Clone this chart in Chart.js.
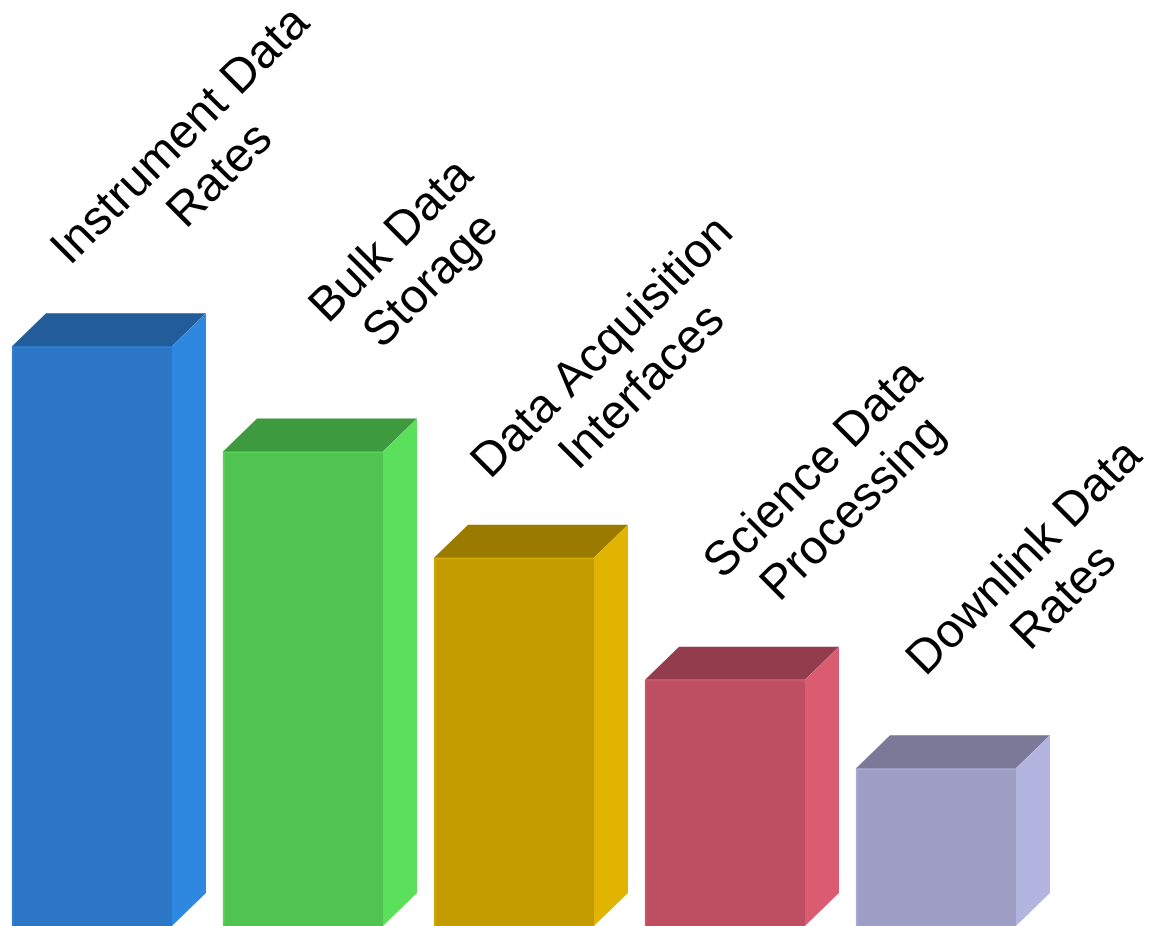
<!DOCTYPE html>
<html>
<head>
<meta charset="utf-8">
<script src="https://cdn.jsdelivr.net/npm/chart.js@4/dist/chart.umd.min.js"></script>
<style>
  html, body { margin: 0; padding: 0; background: #ffffff; }
  #wrap { width: 1150px; height: 926px; }
</style>
</head>
<body>
<div id="wrap"><canvas id="c" width="1150" height="926"></canvas></div>
<script>
const categories = [
  ["Instrument Data", "Rates"],
  ["Bulk Data", "Storage"],
  ["Data Acquisition", "Interfaces"],
  ["Science Data", "Processing"],
  ["Downlink Data", "Rates"]
];
const values = [55.1, 45.1, 35, 23.4, 15];
const frontColors = ["#2B77C5", "#50C350", "#C49C00", "#BE4F62", "#9E9EC5"];
const topColors   = ["#225D9A", "#3E9A3E", "#9A7B00", "#923C4D", "#7A7A98"];
const sideColors  = ["#2F88E0", "#5BE05B", "#E0B400", "#DB5C71", "#B4B4E0"];
const edgeColors  = ["#2F80D6", "#5AD35A", "#D4A800", "#CC5669", "#A8A8D2"];

const DEPTH_X = 34, DEPTH_Y = 33;

const bar3d = {
  id: 'bar3d',
  afterDatasetsDraw(chart) {
    const ctx = chart.ctx;
    const meta = chart.getDatasetMeta(0);
    meta.data.forEach((el, i) => {
      const p = el.getProps(['x', 'y', 'base', 'width'], true);
      const l = p.x - p.width / 2, r = p.x + p.width / 2;
      const t = p.y, b = p.base;
      ctx.save();
      // top face
      ctx.beginPath();
      ctx.moveTo(l, t);
      ctx.lineTo(l + DEPTH_X, t - DEPTH_Y);
      ctx.lineTo(r + DEPTH_X, t - DEPTH_Y);
      ctx.lineTo(r, t);
      ctx.closePath();
      ctx.fillStyle = topColors[i];
      ctx.fill();
      // side face
      ctx.beginPath();
      ctx.moveTo(r, t);
      ctx.lineTo(r + DEPTH_X, t - DEPTH_Y);
      ctx.lineTo(r + DEPTH_X, b - DEPTH_Y);
      ctx.lineTo(r, b);
      ctx.closePath();
      ctx.fillStyle = sideColors[i];
      ctx.fill();
      // labels
      const lines = categories[i];
      const cx = p.x + 109, cy = t - 190;
      ctx.translate(cx, cy);
      ctx.rotate(-Math.PI / 4);
      ctx.fillStyle = '#000000';
      ctx.font = '48px "Liberation Sans", Arial, sans-serif';
      ctx.textAlign = 'center';
      ctx.textBaseline = 'middle';
      const lh = 56;
      lines.forEach((s, k) => {
        ctx.fillText(s, 0, (k - (lines.length - 1) / 2) * lh);
      });
      ctx.restore();
    });
  }
};

new Chart(document.getElementById('c'), {
  type: 'bar',
  data: {
    labels: categories,
    datasets: [{
      data: values,
      backgroundColor: frontColors,
      borderColor: edgeColors,
      borderWidth: { left: 2, top: 2, right: 0, bottom: 0 },
      borderSkipped: false,
      barThickness: 160,
      clip: false
    }]
  },
  options: {
    responsive: false,
    animation: false,
    layout: { padding: { left: 92, right: 214, top: 0, bottom: 0 } },
    plugins: { legend: { display: false }, tooltip: { enabled: false } },
    scales: {
      x: { display: false, offset: false },
      y: { display: false, min: 0, max: 88 }
    }
  },
  plugins: [bar3d]
});
</script>
</body>
</html>
